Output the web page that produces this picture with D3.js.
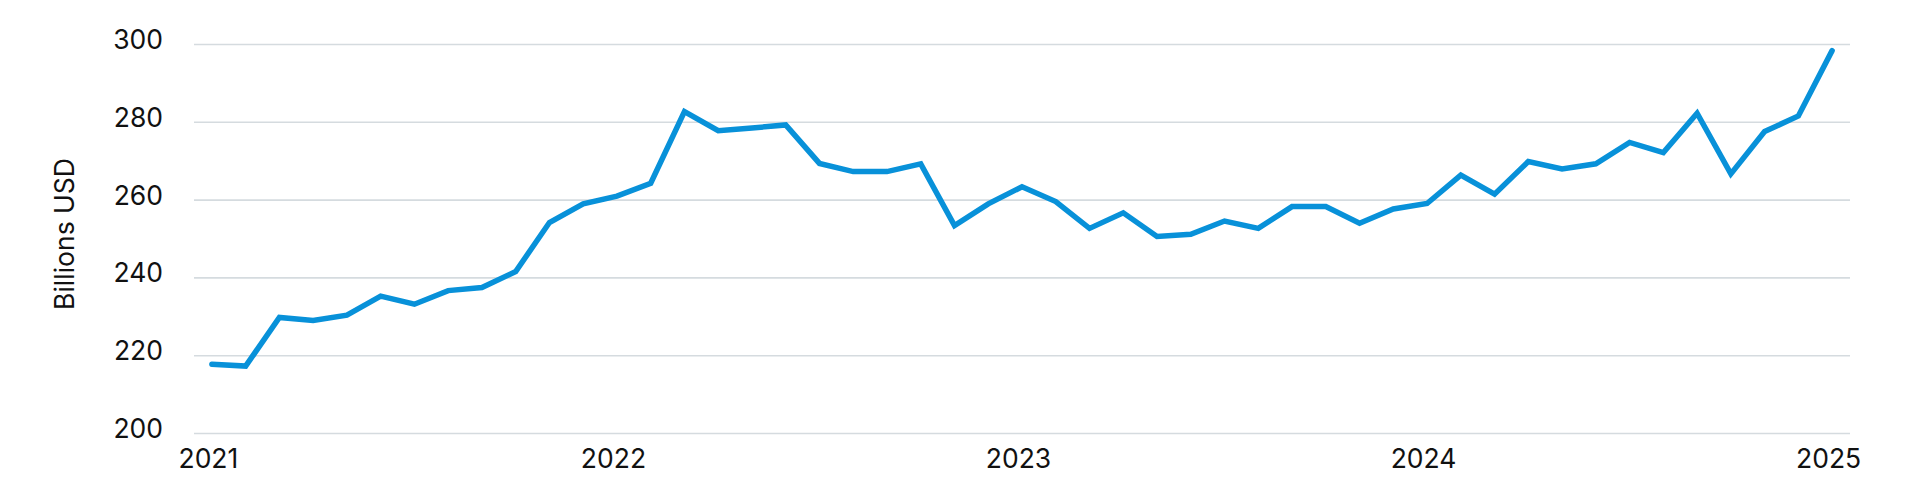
<!DOCTYPE html>
<html>
<head>
<meta charset="utf-8">
<script src="https://cdn.jsdelivr.net/npm/d3@7"></script>
<style>
  html, body { margin: 0; padding: 0; background: #fff; }
  svg text { font-family: Inter, "Liberation Sans", sans-serif; fill: #111; }
</style>
</head>
<body>
<div id="chart"></div>
<script>
// Monthly points, Jan 2021 .. Jan 2025
const months = [
  '2021-01','2021-02','2021-03','2021-04','2021-05','2021-06','2021-07','2021-08','2021-09','2021-10','2021-11','2021-12',
  '2022-01','2022-02','2022-03','2022-04','2022-05','2022-06','2022-07','2022-08','2022-09','2022-10','2022-11','2022-12',
  '2023-01','2023-02','2023-03','2023-04','2023-05','2023-06','2023-07','2023-08','2023-09','2023-10','2023-11','2023-12',
  '2024-01','2024-02','2024-03','2024-04','2024-05','2024-06','2024-07','2024-08','2024-09','2024-10','2024-11','2024-12',
  '2025-01'
];

// Values in billions USD
const values = [
  217.7, 217.2, 229.7, 228.9, 230.3, 235.2, 233.1, 236.6, 237.4, 241.5, 254.1, 258.9,
  260.9, 264.2, 282.6, 277.7, 278.4, 279.2, 269.3, 267.2, 267.2, 269.2, 253.3, 258.9,
  263.3, 259.5, 252.6, 256.6, 250.5, 251.1, 254.5, 252.6, 258.2, 258.2, 253.9, 257.6,
  259.0, 266.3, 261.4, 269.8, 267.9, 269.2, 274.7, 272.1, 282.2, 266.6, 277.5, 281.5,
  298.3
];

const yTicks = [200, 220, 240, 260, 280, 300];
const xTicks = ['2021-01', '2022-01', '2023-01', '2024-01', '2025-01'];
const yLabel = 'Billions USD';

let
w = 1913, h = 499,
plotL = 194, plotR = 1850, // gridline extent
plotT = 44, plotB = 433,
fontSize = 26.5,
lineColor = '#0891d9',
gridColor = '#d5dbdf',

xScale = d3.scalePoint().
  domain(months).
  range([plotL, plotR]).
  padding(0.53),

yScale = d3.scaleLinear().
  domain([200, 300]).
  range([plotB, plotT]),

svg = d3.select('#chart').
  append('svg').
  attr('width', w).
  attr('height', h);

// Y axis with gridlines across the plot
let yAxis = svg.append('g').
  attr('transform', 'translate(' + plotL + ',0)').
  call(d3.axisLeft(yScale).
    tickValues(yTicks).
    tickSize(-(plotR - plotL)).
    tickPadding(31));

yAxis.select('.domain').remove();
yAxis.selectAll('.tick line').
  attr('stroke', gridColor).
  attr('stroke-width', 1.6);
yAxis.selectAll('.tick text').
  attr('font-size', fontSize).
  attr('y', -4).
  style('font-family', 'Inter, "Liberation Sans", sans-serif');

// X axis, year labels only
let xAxis = svg.append('g').
  attr('transform', 'translate(0,' + plotB + ')').
  call(d3.axisBottom(xScale).
    tickValues(xTicks).
    tickSize(0).
    tickPadding(16).
    tickFormat(d => d.slice(0, 4)));

xAxis.select('.domain').remove();
xAxis.selectAll('.tick text').
  attr('font-size', fontSize).
  attr('x', -4).
  style('font-family', 'Inter, "Liberation Sans", sans-serif');

// Axis title
svg.append('text').
  attr('transform', 'translate(74,234) rotate(-90)').
  attr('text-anchor', 'middle').
  attr('font-size', fontSize).
  text(yLabel);

// The series line
let line = d3.line().
  x((d, i) => xScale(months[i])).
  y(d => yScale(d));

svg.append('path').
  datum(values).
  attr('d', line).
  attr('fill', 'none').
  attr('stroke', lineColor).
  attr('stroke-width', 5.5).
  attr('stroke-linecap', 'round').
  attr('stroke-linejoin', 'miter');
</script>
</body>
</html>
